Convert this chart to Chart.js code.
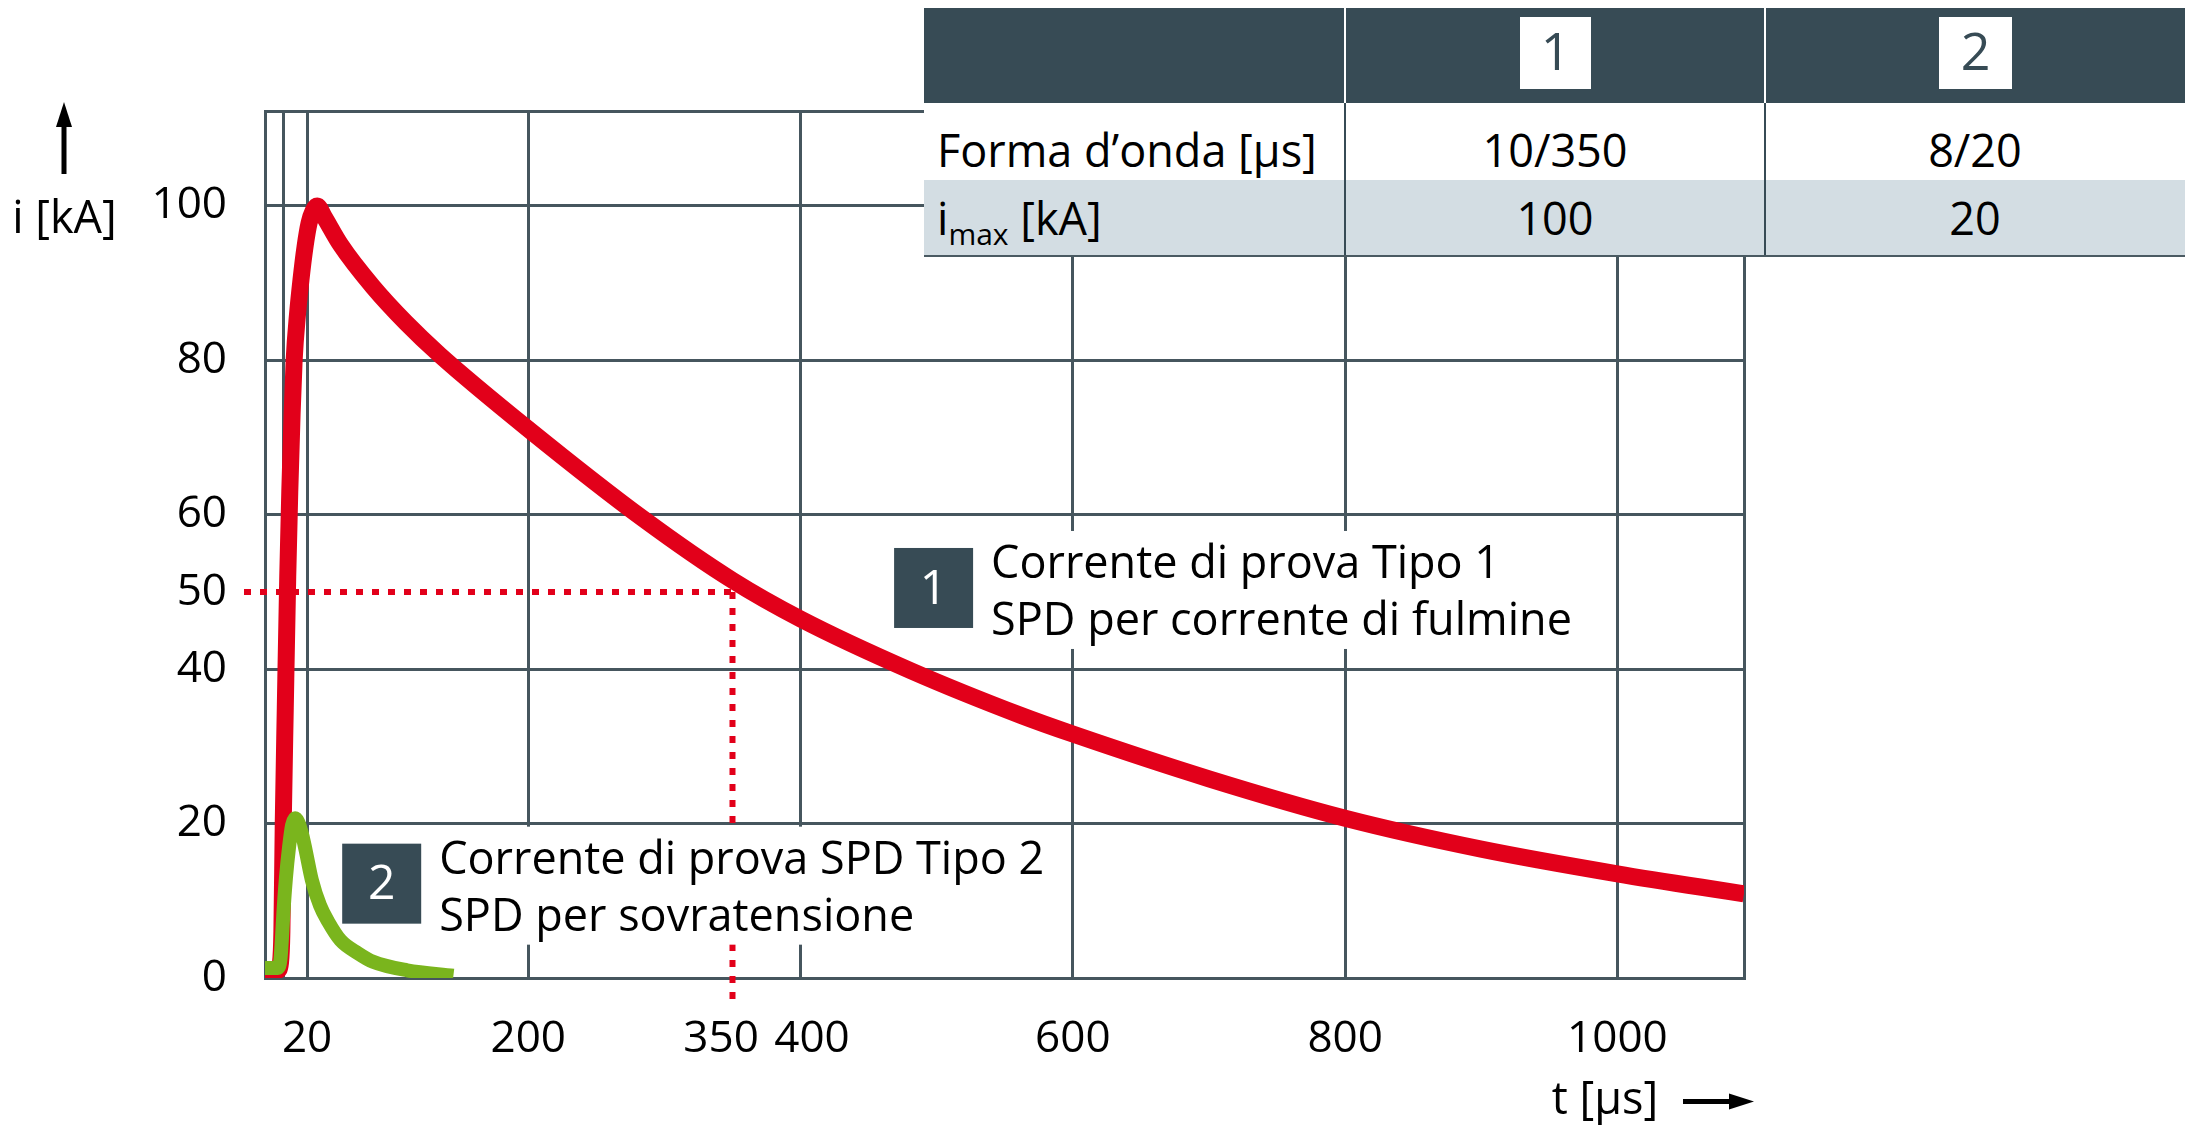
<!DOCTYPE html>
<html>
<head>
<meta charset="utf-8">
<script src="https://cdn.jsdelivr.net/npm/chart.js@4.4.1/dist/chart.umd.min.js"></script>
<style>
  body { margin: 0; background: #fff; }
  #wrap { position: relative; width: 2185px; height: 1129px; font-family: 'Open Sans', sans-serif; }
  #chart { position: absolute; left: 0; top: 0; }
  .blk { position: absolute; }
  .txt { position: absolute; white-space: nowrap; color: #000; font-size: 45px; line-height: normal; }
  .num { position: absolute; background: #fff; color: #374b55; font-size: 52px; line-height: 66px; text-align: center; }
</style>
</head>
<body>
<div id="wrap">
  <canvas id="chart" width="2185" height="1129"></canvas>

  <!-- table in the top right corner -->
  <div class="blk" style="left:924px; top:8px; width:1261px; height:95px; background:#374b55;"></div>
  <div class="blk" style="left:1344px; top:8px; width:2px; height:95px; background:#fff;"></div>
  <div class="blk" style="left:1764px; top:8px; width:2px; height:95px; background:#fff;"></div>
  <div class="num" style="left:1520px; top:17px; width:71px; height:72px;">1</div>
  <div class="num" style="left:1939px; top:17px; width:73px; height:72px;">2</div>
  <div class="blk" style="left:924px; top:103px; width:1261px; height:77px; background:#fff;"></div>
  <div class="blk" style="left:924px; top:180px; width:1261px; height:76px; background:#d3dde3;"></div>
  <div class="blk" style="left:1344px; top:103px; width:2px; height:153px; background:#374b55;"></div>
  <div class="blk" style="left:1764px; top:103px; width:2px; height:153px; background:#374b55;"></div>
  <div class="blk" style="left:924px; top:255px; width:1261px; height:2px; background:#4a5a62;"></div>
  <div class="txt" style="left:937px; top:119px;">Forma d’onda [µs]</div>
  <div class="txt" style="left:1345px; top:119px; width:420px; text-align:center;">10/350</div>
  <div class="txt" style="left:1765px; top:119px; width:420px; text-align:center;">8/20</div>
  <div class="txt" style="left:937px; top:187px;">i<span style="font-size:30px; position:relative; top:10px;">max</span> [kA]</div>
  <div class="txt" style="left:1345px; top:187px; width:420px; text-align:center;">100</div>
  <div class="txt" style="left:1765px; top:187px; width:420px; text-align:center;">20</div>
</div>
<script>
// waveform 10/350 (Tipo 1), t in µs, i in kA
var redT = [6.6, 16, 18, 19, 20, 21.5, 23.3, 24.8, 26.5, 28, 30.5, 33, 36, 39, 42, 45, 50, 62, 86, 110, 135, 200, 285, 350, 400, 481, 562, 600, 700, 800, 900, 1000, 1093];
var redI = [1, 1, 2, 6, 20, 35, 52, 63, 73, 80, 86, 90.4, 94.7, 97.8, 99.4, 100, 98.6, 95.0, 89.5, 84.9, 80.7, 71.1, 59.4, 51.5, 46.5, 39.8, 34.0, 31.6, 25.8, 20.7, 16.7, 13.5, 10.9];

// waveform 8/20 (Tipo 2)
var greenT = [6.6, 16, 18, 19, 20.1, 22, 24.3, 26.5, 28.7, 31, 34, 36.5, 41, 47, 53, 62, 75, 86, 111, 145];
var greenI = [1.3, 1.3, 2.5, 5, 8.4, 13, 17, 19.8, 20.7, 20.2, 18.5, 16.5, 12.7, 9.4, 7.3, 4.9, 3.2, 2.1, 1.0, 0.3];

// axes
var tMin = 6.6, tMax = 1093;
var iMin = 0, iMax = 112.3;
var xTickValues = [6.6, 20, 37.5, 200, 350, 400, 600, 800, 1000, 1093];
var xTickLabels = ['', '', '20', '200', '350  ', '  400', '600', '800', '1000', ''];
var yTickValues = [0, 20, 40, 50, 60, 80, 100, 112.3];
var yTickLabels = ['0', '20', '40', '50', '60', '80', '100', ''];

// marked point on the 10/350 curve (half value)
var halfT = 350, halfI = 50;

var notes = [
    { num: '1', lines: ['Corrente di prova Tipo 1', 'SPD per corrente di fulmine'], t: 468.7, i: 55.7 },
    { num: '2', lines: ['Corrente di prova SPD Tipo 2', 'SPD per sovratensione'], t: 63.3, i: 17.4 }
];

var gridColor = '#46565e';
var darkBox = '#374b55';
var redColor = '#e2001a';
var greenColor = '#7ab51d';
var font = "'Open Sans', sans-serif";

Chart.defaults.font.family = font;
Chart.defaults.color = '#000';

function toPoints(xs, ys) {
    return xs.map(function (x, k) { return { x: x, y: ys[k] }; });
}

var extras = {
    id: 'extras',
    beforeDatasetsDraw: function (chart) {
        var ctx = chart.ctx;
        var xs = chart.scales.x, ys = chart.scales.y, area = chart.chartArea;
        var px = xs.getPixelForValue(halfT), py = ys.getPixelForValue(halfI);

        // dotted red guides
        ctx.save();
        ctx.strokeStyle = redColor;
        ctx.lineWidth = 6;
        ctx.setLineDash([7, 9]);
        ctx.beginPath();
        ctx.moveTo(area.left - 21, py);
        ctx.lineTo(px + 4, py);
        ctx.moveTo(px, py);
        ctx.lineTo(px, area.bottom + 22);
        ctx.stroke();
        ctx.restore();

        // white background behind the notes
        ctx.save();
        ctx.font = '45px ' + font;
        notes.forEach(function (n) {
            var bx = xs.getPixelForValue(n.t), by = ys.getPixelForValue(n.i);
            var w = Math.max.apply(null, n.lines.map(function (s) { return ctx.measureText(s).width; }));
            ctx.fillStyle = '#fff';
            ctx.fillRect(bx - 12, by - 17, 97 + w + 24, 118);
        });
        ctx.restore();
    },
    afterDatasetsDraw: function (chart) {
        var ctx = chart.ctx;
        var xs = chart.scales.x, ys = chart.scales.y;
        ctx.save();
        notes.forEach(function (n) {
            var bx = xs.getPixelForValue(n.t), by = ys.getPixelForValue(n.i);
            ctx.fillStyle = darkBox;
            ctx.fillRect(bx, by, 79, 80);
            ctx.fillStyle = '#fff';
            ctx.font = '48px ' + font;
            ctx.textAlign = 'center';
            ctx.textBaseline = 'middle';
            ctx.fillText(n.num, bx + 39.5, by + 42);
            ctx.fillStyle = '#000';
            ctx.font = '45px ' + font;
            ctx.textAlign = 'left';
            ctx.textBaseline = 'alphabetic';
            ctx.fillText(n.lines[0], bx + 97, by + 30);
            ctx.fillText(n.lines[1], bx + 97, by + 87);
        });
        ctx.restore();
    },
    afterDraw: function (chart) {
        var ctx = chart.ctx;
        ctx.save();
        ctx.fillStyle = '#000';
        ctx.strokeStyle = '#000';
        ctx.font = '45px ' + font;
        ctx.textAlign = 'center';
        ctx.textBaseline = 'alphabetic';
        ctx.fillText('i [kA]', 64.5, 233);
        ctx.fillText('t [µs]', 1605, 1114);

        ctx.lineWidth = 5;
        ctx.beginPath();
        ctx.moveTo(64, 174);
        ctx.lineTo(64, 122);
        ctx.moveTo(1683, 1101.5);
        ctx.lineTo(1732, 1101.5);
        ctx.stroke();

        ctx.beginPath();
        ctx.moveTo(64, 102);
        ctx.lineTo(56, 127);
        ctx.lineTo(72, 127);
        ctx.closePath();
        ctx.fill();
        ctx.beginPath();
        ctx.moveTo(1754, 1101.5);
        ctx.lineTo(1729, 1093.5);
        ctx.lineTo(1729, 1109.5);
        ctx.closePath();
        ctx.fill();
        ctx.restore();
    }
};

new Chart(document.getElementById('chart'), {
    type: 'line',
    data: {
        datasets: [
            {
                data: toPoints(greenT, greenI),
                borderColor: greenColor,
                borderWidth: 14,
                borderJoinStyle: 'round',
                pointRadius: 0,
                cubicInterpolationMode: 'monotone',
                order: 0
            },
            {
                data: toPoints(redT, redI),
                borderColor: redColor,
                borderWidth: 17,
                borderJoinStyle: 'round',
                pointRadius: 0,
                cubicInterpolationMode: 'monotone',
                order: 1
            }
        ]
    },
    options: {
        responsive: false,
        animation: false,
        events: [],
        layout: { padding: { top: 111, right: 441, left: 0, bottom: 0 } },
        plugins: {
            legend: { display: false },
            tooltip: { enabled: false }
        },
        scales: {
            x: {
                type: 'linear',
                min: tMin,
                max: tMax,
                afterBuildTicks: function (axis) {
                    axis.ticks = xTickValues.map(function (v) { return { value: v }; });
                },
                afterFit: function (axis) { axis.height = 151; },
                ticks: {
                    autoSkip: false,
                    maxRotation: 0,
                    padding: 35,
                    font: { size: 44 },
                    callback: function (v, k) { return xTickLabels[k]; }
                },
                grid: {
                    drawTicks: false,
                    lineWidth: 3,
                    color: function (c) { return c.tick && c.tick.value === halfT ? 'rgba(0,0,0,0)' : gridColor; }
                },
                border: { display: true, color: gridColor, width: 3 }
            },
            y: {
                type: 'linear',
                min: iMin,
                max: iMax,
                afterBuildTicks: function (axis) {
                    axis.ticks = yTickValues.map(function (v) { return { value: v }; });
                },
                afterFit: function (axis) { axis.width = 265; },
                ticks: {
                    autoSkip: false,
                    padding: 38,
                    font: { size: 44 },
                    callback: function (v, k) { return yTickLabels[k]; }
                },
                grid: {
                    drawTicks: false,
                    lineWidth: 3,
                    color: function (c) { return c.tick && c.tick.value === halfI ? 'rgba(0,0,0,0)' : gridColor; }
                },
                border: { display: true, color: gridColor, width: 3 }
            }
        }
    },
    plugins: [extras]
});
</script>
</body>
</html>
